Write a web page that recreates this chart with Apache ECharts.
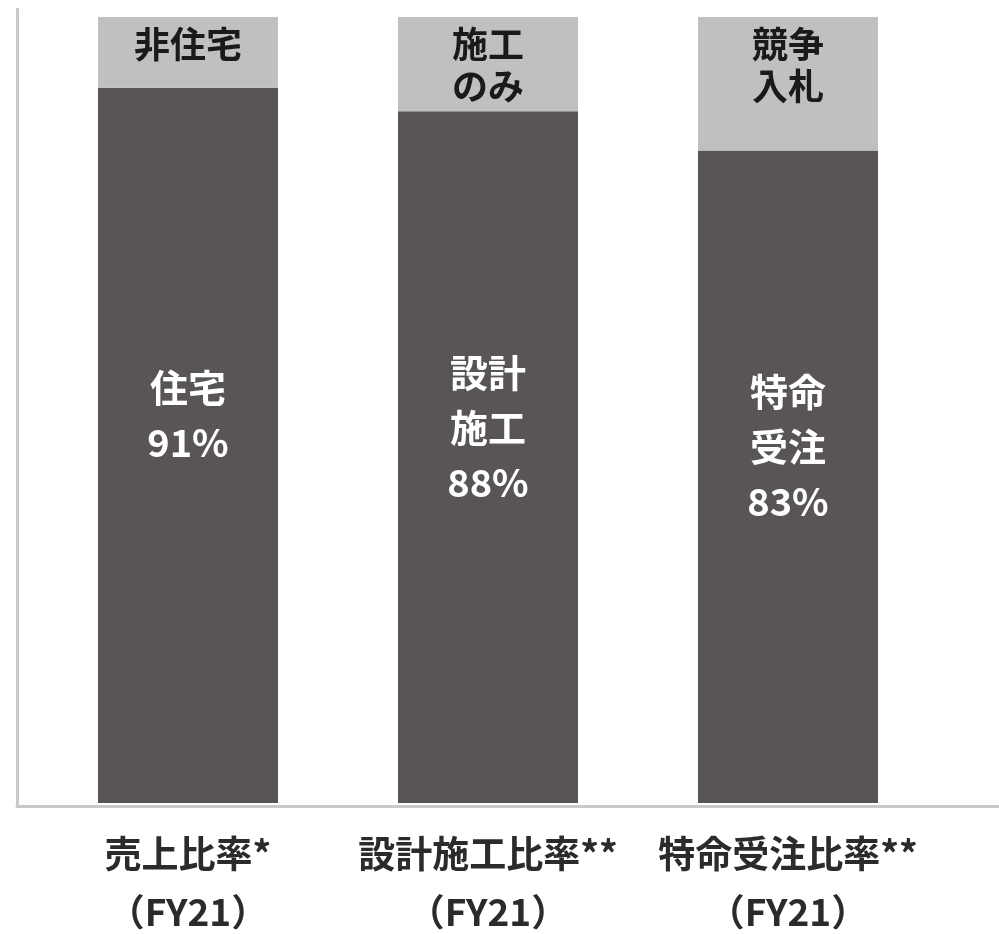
<!DOCTYPE html>
<html>
<head>
<meta charset="utf-8">
<script src="https://cdn.jsdelivr.net/npm/echarts@6/dist/echarts.min.js"></script>
<style>
  html, body { margin: 0; padding: 0; background: #ffffff; }
  #chart { width: 999px; height: 934px; }
</style>
</head>
<body>
<div id="chart"></div>
<script>
// Ratios for FY21: main share (dark) and remainder (light), per category
const categories = ['売上比率*', '設計施工比率**', '特命受注比率**'];
const periods = ['（FY21）', '（FY21）', '（FY21）'];
const mainNames = ['住宅', '設計\n施工', '特命\n受注'];
const mainShare = [91, 88, 83];
const otherNames = ['非住宅', '施工\nのみ', '競争\n入札'];
const otherShare = [9, 12, 17];

const FONT = '"Noto Sans CJK JP", "Noto Sans", sans-serif';

const chart = echarts.init(document.getElementById('chart'), null, { renderer: 'canvas' });

chart.setOption({
  backgroundColor: '#ffffff',
  animation: false,
  grid: [
    // frame: left and bottom axis lines across the full width
    { left: 17, right: 0, top: 9, bottom: 128, outerBoundsMode: 'none', containLabel: false },
    // plot area for the bars
    { left: 38, right: 61, top: 17, bottom: 131, outerBoundsMode: 'none', containLabel: false }
  ],
  xAxis: [
    {
      gridIndex: 0, type: 'value', min: 0, max: 1,
      axisLine: { show: true, onZero: false, lineStyle: { color: '#c9c9c9', width: 3 } },
      axisTick: { show: false }, axisLabel: { show: false }, splitLine: { show: false }
    },
    {
      gridIndex: 1, type: 'category',
      data: categories.map((c, i) => c + '\n' + periods[i]),
      axisLine: { show: false }, axisTick: { show: false },
      axisLabel: {
        margin: 22,
        fontFamily: FONT, fontSize: 37, fontWeight: 'bold',
        color: '#2b2b2b', lineHeight: 58, interval: 0
      }
    }
  ],
  yAxis: [
    {
      gridIndex: 0, type: 'value', min: 0, max: 1,
      axisLine: { show: true, onZero: false, lineStyle: { color: '#c9c9c9', width: 3 } },
      axisTick: { show: false }, axisLabel: { show: false }, splitLine: { show: false }
    },
    {
      gridIndex: 1, type: 'value', min: 0, max: 100,
      show: false, splitLine: { show: false }
    }
  ],
  series: [
    {
      type: 'bar', xAxisIndex: 1, yAxisIndex: 1, stack: 'share',
      barWidth: 180,
      data: mainShare,
      itemStyle: { color: '#595556' },
      label: {
        show: true, position: 'inside', offset: [0, -30],
        fontFamily: FONT, fontSize: 38, fontWeight: 'bold',
        color: '#ffffff', lineHeight: 55,
        formatter: p => mainNames[p.dataIndex] + '\n' + p.value + '%'
      }
    },
    {
      type: 'bar', xAxisIndex: 1, yAxisIndex: 1, stack: 'share',
      barWidth: 180,
      data: otherShare,
      itemStyle: { color: '#c1c0c1' },
      label: {
        show: true, position: 'insideTop', distance: 6,
        fontFamily: FONT, fontSize: 36, fontWeight: 'bold',
        color: '#1a1a1a', lineHeight: 42,
        formatter: p => otherNames[p.dataIndex]
      }
    }
  ]
});
</script>
</body>
</html>
